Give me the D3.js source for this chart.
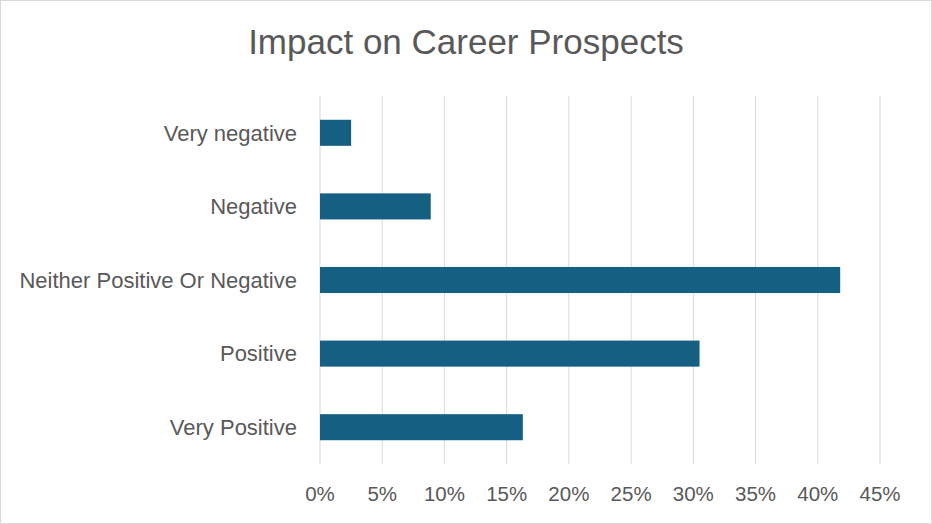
<!DOCTYPE html>
<html>
<head>
<meta charset="utf-8">
<script src="https://cdn.jsdelivr.net/npm/d3@7"></script>
<style>
  html, body { margin: 0; padding: 0; background: #fff; }
  svg text { font-family: "Liberation Sans", Arial, sans-serif; fill: #595959; }
</style>
</head>
<body>
<div id="chart"></div>
<script>
// Chart data
const categories = ["Very negative", "Negative", "Neither Positive Or Negative", "Positive", "Very Positive"];
const values = [2.5, 8.9, 41.8, 30.5, 16.3];
const tickValues = [0, 5, 10, 15, 20, 25, 30, 35, 40, 45];
const title = "Impact on Career Prospects";

const width = 932, height = 524;
const margin = { top: 96, right: 52, bottom: 60, left: 320 };

const svg = d3.select("#chart")
    .append("svg")
    .attr("width", width)
    .attr("height", height);

// Outer chart border
svg.append("rect")
    .attr("x", 0.5).attr("y", 0.5)
    .attr("width", width - 1).attr("height", height - 1)
    .attr("fill", "#fff")
    .attr("stroke", "#d9d9d9");

const x = d3.scaleLinear()
    .domain([0, 45])
    .range([margin.left, width - margin.right]);

const y = d3.scaleBand()
    .domain(categories)
    .range([margin.top, height - margin.bottom])
    .paddingInner(0.646)
    .paddingOuter(0.323);

// Gridlines
svg.append("g")
    .selectAll("line")
    .data(tickValues)
    .enter().append("line")
    .attr("x1", d => x(d)).attr("x2", d => x(d))
    .attr("y1", margin.top).attr("y2", height - margin.bottom)
    .attr("stroke", "#d9d9d9")
    .attr("stroke-width", 1);

// Bars
svg.append("g")
    .selectAll("rect")
    .data(values)
    .enter().append("rect")
    .attr("x", x(0))
    .attr("y", (d, i) => y(categories[i]))
    .attr("width", d => x(d) - x(0))
    .attr("height", y.bandwidth())
    .attr("fill", "#156082");

// X axis labels
svg.append("g")
    .selectAll("text")
    .data(tickValues)
    .enter().append("text")
    .attr("x", d => x(d))
    .attr("y", 501)
    .attr("text-anchor", "middle")
    .style("font-size", "20.5px")
    .text(d => d + "%");

// Category labels
svg.append("g")
    .selectAll("text")
    .data(categories)
    .enter().append("text")
    .attr("x", margin.left - 23)
    .attr("y", d => y(d) + y.bandwidth() / 2)
    .attr("dy", "0.35em")
    .attr("text-anchor", "end")
    .style("font-size", "22px")
    .text(d => d);

// Title
svg.append("text")
    .attr("x", width / 2)
    .attr("y", 54)
    .attr("text-anchor", "middle")
    .style("font-size", "35px")
    .text(title);
</script>
</body>
</html>
